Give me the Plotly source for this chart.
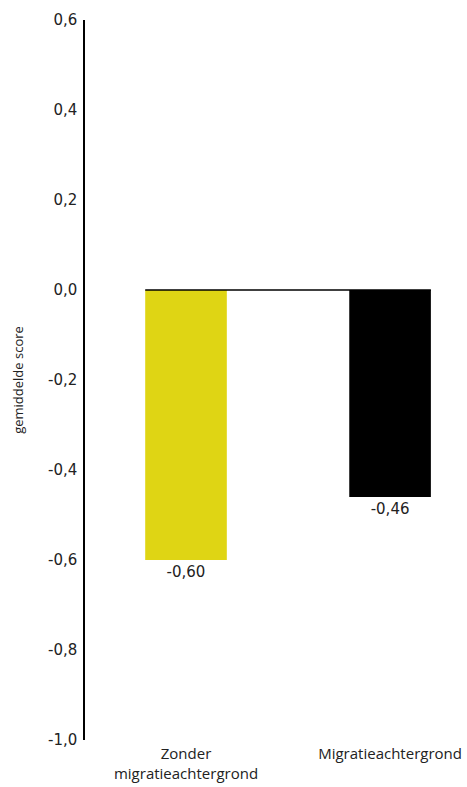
import plotly.graph_objects as go

categories = ["Zonder<br>migratieachtergrond", "Migratieachtergrond"]
values = [-0.60, -0.46]
colors = ["#DFD514", "#000000"]
y_ticks = [0.6, 0.4, 0.2, 0.0, -0.2, -0.4, -0.6, -0.8, -1.0]
y_ticktext = ["0,6", "0,4", "0,2", "0,0", "-0,2", "-0,4", "-0,6", "-0,8", "-1,0"]
y_title = "gemiddelde score"

bar_width = 0.4
text_font = "'Open Sans', 'Noto Sans', sans-serif"
number_font = "'DejaVu Sans', sans-serif"
bar_text = [f"{v:.2f}".replace(".", ",") for v in values]

fig = go.Figure()
fig.add_trace(go.Bar(
    x=categories,
    y=values,
    marker=dict(color=colors, line=dict(width=0)),
    width=bar_width,
    text=bar_text,
    textposition="outside",
    textfont=dict(size=15, color="#222222", family=number_font),
    cliponaxis=False,
    hoverinfo="skip",
))

fig.add_shape(
    type="line", xref="x", yref="y",
    x0=-bar_width / 2, x1=len(categories) - 1 + bar_width / 2,
    y0=0, y1=0,
    line=dict(color="#000000", width=1.5),
)

fig.update_layout(
    width=467, height=787,
    margin=dict(l=85, r=0, t=20, b=47),
    paper_bgcolor="white", plot_bgcolor="white",
    showlegend=False,
    font=dict(family=text_font, size=15, color="#222222"),
    xaxis=dict(
        range=[-0.495, 1.377],
        showline=False, showgrid=False, zeroline=False,
        ticks="", ticklabelstandoff=3,
        tickfont=dict(size=15, family=text_font), automargin=False,
    ),
    yaxis=dict(
        range=[-1.0, 0.6],
        tickvals=y_ticks,
        ticktext=y_ticktext,
        showline=True, linecolor="#000000", linewidth=1.5,
        showgrid=False, zeroline=False,
        ticks="", ticklabelstandoff=3,
        tickfont=dict(size=15, family=number_font), automargin=False,
        title=dict(text=y_title, font=dict(size=13, family=text_font), standoff=21),
    ),
)

fig.write_html(
    "out.html",
    config={"displayModeBar": False},
    post_script="document.body.style.margin='0';document.body.style.overflow='hidden';",
)
